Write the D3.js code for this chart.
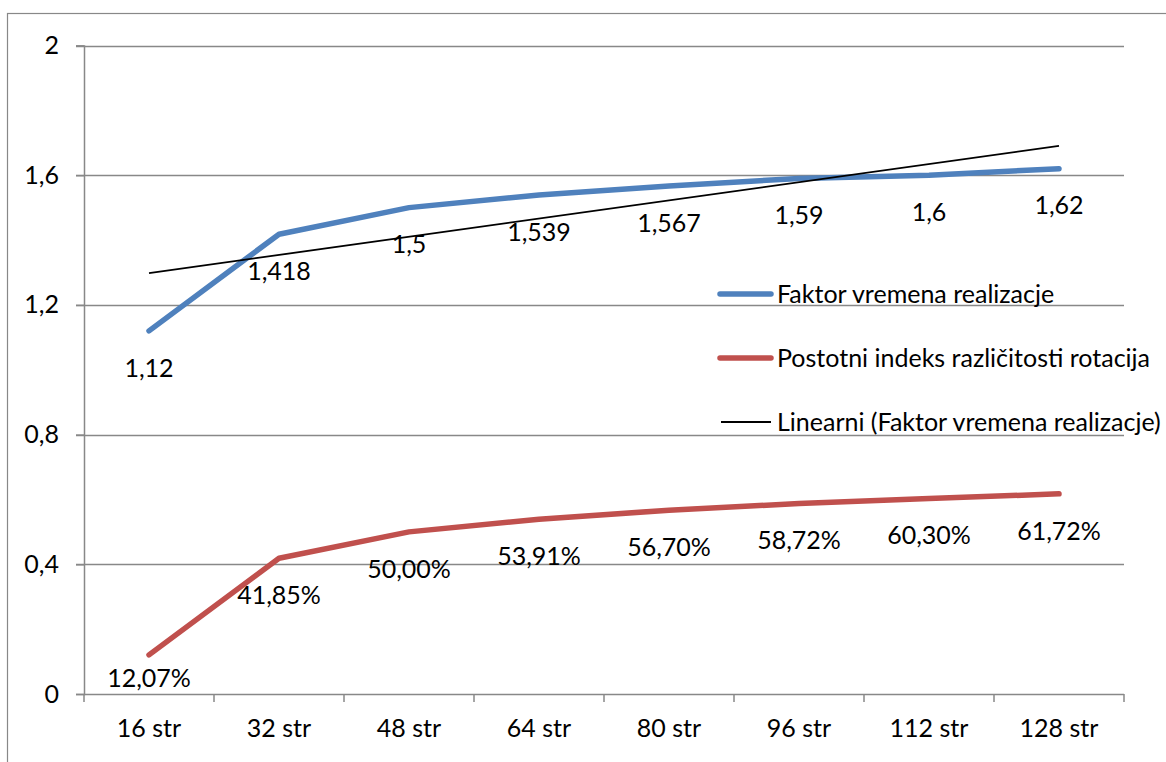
<!DOCTYPE html>
<html>
<head>
<meta charset="utf-8">
<script src="https://cdn.jsdelivr.net/npm/d3@7"></script>
<style>
  html, body { margin: 0; padding: 0; background: #fff; }
  svg { display: block; }
  text { font-family: Lato, "Open Sans", sans-serif; fill: #000; }
</style>
</head>
<body>
<svg id="chart" width="1166" height="762"></svg>
<script>
const categories = ["16 str", "32 str", "48 str", "64 str", "80 str", "96 str", "112 str", "128 str"];
const faktor = [1.12, 1.418, 1.5, 1.539, 1.567, 1.59, 1.6, 1.62];
const faktorLabels = ["1,12", "1,418", "1,5", "1,539", "1,567", "1,59", "1,6", "1,62"];
const postotni = [0.1207, 0.4185, 0.5, 0.5391, 0.567, 0.5872, 0.603, 0.6172];
const postotniLabels = ["12,07%", "41,85%", "50,00%", "53,91%", "56,70%", "58,72%", "60,30%", "61,72%"];
const yTicks = [0, 0.4, 0.8, 1.2, 1.6, 2];
const yTickLabels = ["0", "0,4", "0,8", "1,2", "1,6", "2"];
const seriesNames = ["Faktor vremena realizacje", "Postotni indeks različitosti rotacija", "Linearni (Faktor vremena realizacje)"];

(function () {
const svg = d3.select("#chart");
const pLeft = 84, pRight = 1124, pTop = 45.5, pBottom = 694;
const fontSize = 25;
const gridColor = "#888888";

// outer chart border (only top/left visible)
svg.append("rect").attr("x", 7.5).attr("y", 13.5).attr("width", 1300).attr("height", 900)
  .attr("fill", "none").attr("stroke", gridColor).attr("stroke-width", 1.2);

const x = d3.scaleBand().domain(categories).range([pLeft, pRight]).padding(0);
const y = d3.scaleLinear().domain([0, 2]).range([pBottom, pTop]);
const cx = c => x(c) + x.bandwidth() / 2;

// gridlines
svg.append("g").selectAll("line").data(yTicks.filter(d => d > 0)).join("line")
  .attr("x1", pLeft - 8).attr("x2", pRight)
  .attr("y1", d => Math.round(y(d)) + 0.5).attr("y2", d => Math.round(y(d)) + 0.5)
  .attr("stroke", gridColor).attr("stroke-width", 1.5);

// y axis
const yAxis = d3.axisLeft(y).tickValues(yTicks).tickSize(8).tickPadding(17)
  .tickFormat((d, i) => yTickLabels[i]);
const gy = svg.append("g").attr("transform", `translate(${pLeft},0)`).call(yAxis);
gy.select(".domain").attr("stroke", gridColor).attr("stroke-width", 1.5);
gy.selectAll(".tick line").attr("stroke", gridColor).attr("stroke-width", 1.5);
gy.selectAll(".tick text").attr("font-size", fontSize).attr("font-family", "Lato, sans-serif").attr("fill", "#000");

// x axis
const gx = svg.append("g").attr("transform", `translate(0,${pBottom})`);
gx.append("line").attr("x1", pLeft).attr("x2", pRight).attr("y1", 0.5).attr("y2", 0.5)
  .attr("stroke", gridColor).attr("stroke-width", 1.5);
const boundaries = categories.map(c => x(c)).concat([pRight]);
gx.selectAll("line.tk").data(boundaries).join("line").attr("class", "tk")
  .attr("x1", d => d).attr("x2", d => d).attr("y1", 0).attr("y2", 8)
  .attr("stroke", gridColor).attr("stroke-width", 1.5);
gx.selectAll("text").data(categories).join("text")
  .attr("x", d => cx(d)).attr("y", 43)
  .attr("text-anchor", "middle").attr("font-size", fontSize).text(d => d);

// lines
const line = d3.line().x((d, i) => cx(categories[i])).y(d => y(d));
svg.append("path").datum(faktor).attr("d", line).attr("fill", "none")
  .attr("stroke", "#4F81BD").attr("stroke-width", 5.5).attr("stroke-linecap", "round").attr("stroke-linejoin", "round");
svg.append("path").datum(postotni).attr("d", line).attr("fill", "none")
  .attr("stroke", "#C0504D").attr("stroke-width", 5.5).attr("stroke-linecap", "round").attr("stroke-linejoin", "round");

// linear trendline (least squares on faktor)
const n = faktor.length;
const xs = d3.range(1, n + 1);
const mx = d3.mean(xs), my = d3.mean(faktor);
const slope = d3.sum(xs.map((xi, i) => (xi - mx) * (faktor[i] - my))) / d3.sum(xs.map(xi => (xi - mx) ** 2));
const intercept = my - slope * mx;
const trend = [intercept + slope * 1, intercept + slope * n];
svg.append("line")
  .attr("x1", cx(categories[0])).attr("x2", cx(categories[n - 1]))
  .attr("y1", y(trend[0])).attr("y2", y(trend[1]))
  .attr("stroke", "#000").attr("stroke-width", 1.8);

// data labels (below points, kept inside the plot)
function labels(vals, texts) {
  svg.append("g").selectAll("text").data(vals).join("text")
    .attr("x", (d, i) => cx(categories[i]))
    .attr("y", d => Math.min(y(d) + 37, pBottom - 16))
    .attr("dy", "0.35em")
    .attr("text-anchor", "middle").attr("font-size", fontSize)
    .text((d, i) => texts[i]);
}
labels(faktor, faktorLabels);
labels(postotni, postotniLabels);

// legend
const legY = [294, 358, 422];
const legColors = ["#4F81BD", "#C0504D", "#000"];
const legWidths = [5.5, 5.5, 1.8];
const lg = svg.append("g");
seriesNames.forEach((name, i) => {
  lg.append("line").attr("x1", i < 2 ? 720 : 721).attr("x2", 771)
    .attr("y1", legY[i]).attr("y2", legY[i])
    .attr("stroke", legColors[i]).attr("stroke-width", legWidths[i]).attr("stroke-linecap", i < 2 ? "round" : "butt");
  lg.append("text").attr("x", 777).attr("y", legY[i]).attr("dy", "0.35em")
    .attr("font-size", fontSize).text(name);
});
})();
</script>
</body>
</html>
